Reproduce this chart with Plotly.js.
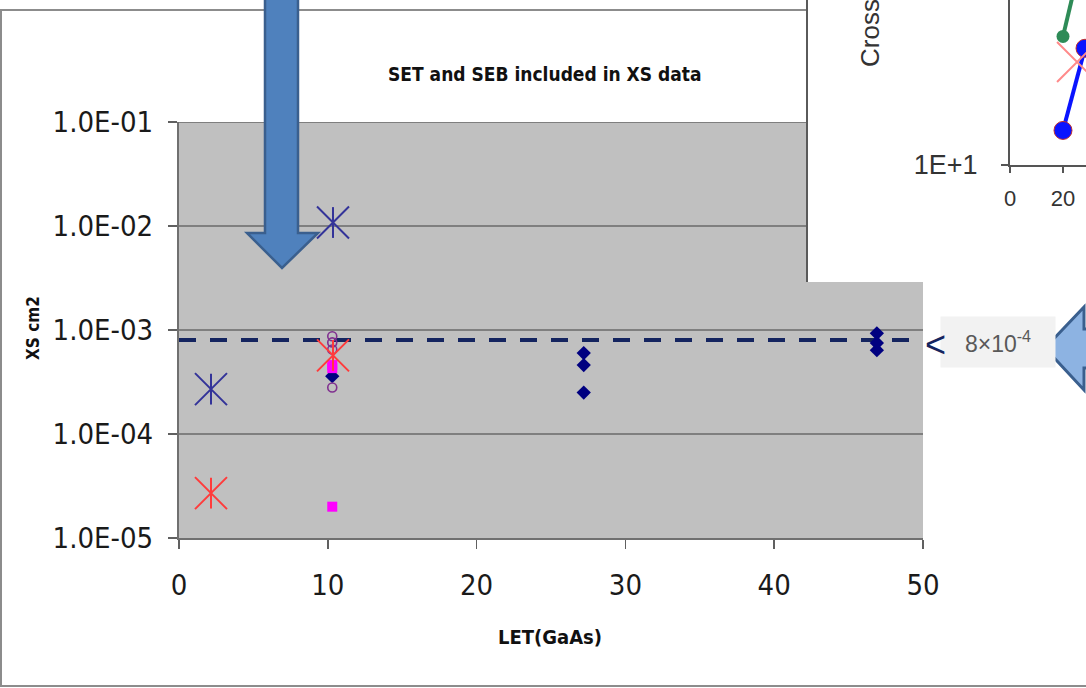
<!DOCTYPE html>
<html><head><meta charset="utf-8">
<script src="https://cdn.plot.ly/plotly-3.0.1.min.js"></script>
<style>html,body{margin:0;padding:0;background:#fff}#chart{width:1086px;height:688px}</style>
</head><body><div id="chart"></div>
<script>
// ---------- main chart data ----------
const diamondLET = [10.3, 27.2, 27.2, 27.2, 46.9, 46.9, 46.9];
const diamondXS  = [3.6e-4, 6.0e-4, 4.6e-4, 2.5e-4, 9.3e-4, 7.5e-4, 6.4e-4];
const squareLET  = [10.3, 10.3, 10.3];
const squareXS   = [2.0e-5, 4.6e-4, 4.3e-4];
const circleLET  = [10.3, 10.3, 10.3, 10.3];
const circleXS   = [8.7e-4, 7.6e-4, 6.5e-4, 2.8e-4];
const blueStarLET = [2.15, 10.35];
const blueStarXS  = [2.7e-4, 1.08e-2];
const redStarLET  = [2.15, 10.35];
const redStarXS   = [2.7e-5, 5.7e-4];
const refLineLET  = [0, 50];
const refLineXS   = [8e-4, 8e-4];
const yTickVals = [1e-5, 1e-4, 1e-3, 1e-2, 1e-1];
const yTickText = ['1.0E-05', '1.0E-04', '1.0E-03', '1.0E-02', '1.0E-01'];
const xTickVals = [0, 10, 20, 30, 40, 50];
const refLabel = '8×10<sup>-4</sup>';
// ---------- inset (cropped second chart) data ----------
const insetGreenX = [20, 25];
const insetGreenY = [72, 170];
const insetBlueX  = [20, 28.3];
const insetBlueY  = [17, 60];
const insetRedX   = [25.3];
const insetRedY   = [48.6];
const insetXTicks = [0, 20];
const insetYTicks = [10];
const insetYText  = ['1E+1'];

const W = 1086, H = 688;
const px = x => x / W;
const py = y => 1 - y / H;
const NARROW = '"DejaVu Sans Condensed", "Liberation Sans Narrow", "Arial Narrow", sans-serif';
const SANS = '"Liberation Sans", Arial, sans-serif';

function pathPx(pts) {
  return 'M' + pts.map(p => px(p[0]).toFixed(5) + ',' + py(p[1]).toFixed(5)).join('L') + 'Z';
}

const starX = (x, y, c) => ({x, y, mode: 'markers', type: 'scatter', hoverinfo: 'skip',
  marker: {symbol: 'x-thin-open', size: 32, color: c, line: {color: c, width: 2}}});
const starV = (x, y, c) => ({x, y, mode: 'markers', type: 'scatter', hoverinfo: 'skip',
  marker: {symbol: 'line-ns-open', size: 22, color: c, line: {color: c, width: 2}}});

const traces = [
  {x: refLineLET, y: refLineXS, mode: 'lines', type: 'scatter',
   line: {color: '#14245f', width: 4, dash: '17px,14px'}},
  {x: diamondLET, y: diamondXS, mode: 'markers', type: 'scatter',
   marker: {symbol: 'diamond', size: 11, color: '#000080'}},
  {x: circleLET, y: circleXS, mode: 'markers', type: 'scatter',
   marker: {symbol: 'circle-open', size: 9, color: '#80308f', line: {color: '#80308f', width: 1.6}}},
  {x: squareLET, y: squareXS, mode: 'markers', type: 'scatter',
   marker: {symbol: 'square', size: 10, color: '#ff00ff'}},
  starX(blueStarLET, blueStarXS, '#333399'),
  starV(blueStarLET, blueStarXS, '#333399'),
  starX(redStarLET, redStarXS, '#ff3b3b'),
  starV(redStarLET, redStarXS, '#ff3b3b'),
  // inset box subplot (empty)
  {x: [], y: [], xaxis: 'x2', yaxis: 'y2', type: 'scatter', mode: 'markers'},
  // inset chart
  {x: insetGreenX, y: insetGreenY, xaxis: 'x3', yaxis: 'y3', type: 'scatter', mode: 'lines+markers',
   line: {color: '#2e8b57', width: 4}, marker: {size: 13, color: '#2e8b57'}},
  {x: insetBlueX, y: insetBlueY, xaxis: 'x3', yaxis: 'y3', type: 'scatter', mode: 'lines+markers',
   line: {color: '#0a14ff', width: 4}, marker: {size: 18, color: '#0a14ff', line: {color: '#c03030', width: 1}}},
  {x: insetRedX, y: insetRedY, xaxis: 'x3', yaxis: 'y3', type: 'scatter', mode: 'markers',
   marker: {symbol: 'x-thin-open', size: 40, color: '#ff8a8a', line: {color: '#ff8a8a', width: 2}}}
];

const layout = {
  width: W, height: H,
  margin: {l: 0, r: 0, t: 0, b: 0},
  paper_bgcolor: '#ffffff', plot_bgcolor: '#ffffff',
  showlegend: false,
  xaxis: {domain: [px(179), px(923)], anchor: 'y', range: [0, 50], tickvals: xTickVals,
    ticks: 'outside', ticklen: 9, tickwidth: 1.5, tickcolor: '#606060',
    showline: true, linecolor: '#707070', linewidth: 2, showgrid: false, zeroline: false,
    tickfont: {family: NARROW, size: 29, color: '#1a1a1a'}, ticklabelstandoff: 11},
  yaxis: {domain: [py(538), py(122)], anchor: 'x', type: 'log', range: [-5, -1],
    tickvals: yTickVals, ticktext: yTickText,
    ticks: 'outside', ticklen: 9, tickwidth: 1.5, tickcolor: '#606060',
    showline: true, linecolor: '#707070', linewidth: 2,
    showgrid: true, gridcolor: '#7f7f7f', gridwidth: 2, zeroline: false,
    tickfont: {family: NARROW, size: 29, color: '#1a1a1a'}, ticklabelstandoff: 9},
  xaxis2: {domain: [px(808), 1], anchor: 'y2', range: [0, 1], showgrid: false, zeroline: false,
    showticklabels: false, ticks: '', showline: false},
  yaxis2: {domain: [py(282), 1], anchor: 'x2', range: [0, 1], showgrid: false, zeroline: false,
    showticklabels: false, ticks: '', showline: true, linecolor: '#5a5a5a', linewidth: 2},
  xaxis3: {domain: [px(1010), 1], anchor: 'y3', range: [0, 76 / 2.65], tickvals: insetXTicks,
    ticks: 'outside', ticklen: 6, tickcolor: '#555', tickwidth: 1.5,
    showline: true, linecolor: '#555', linewidth: 2, showgrid: false, zeroline: false,
    tickfont: {family: SANS, size: 22, color: '#333'}, ticklabelstandoff: 7},
  yaxis3: {domain: [py(165), 1], anchor: 'x3', type: 'log', range: [1, 2.1],
    tickvals: insetYTicks, ticktext: insetYText,
    ticks: 'outside', ticklen: 7, tickcolor: '#555', tickwidth: 1.5,
    showline: true, linecolor: '#555', linewidth: 2, showgrid: false, zeroline: false,
    tickfont: {family: SANS, size: 27, color: '#333'}, ticklabelstandoff: 18},
  shapes: [
    // outer frame of the pasted chart
    {type: 'rect', xref: 'paper', yref: 'paper', x0: px(1), x1: px(1095), y0: py(686), y1: py(10),
     line: {color: '#8c8c8c', width: 2}, fillcolor: 'rgba(0,0,0,0)', layer: 'below'},
    // grey plot area
    {type: 'rect', xref: 'x domain', yref: 'y domain', x0: 0, x1: 1, y0: 0, y1: 1,
     fillcolor: '#c0c0c0', line: {width: 0}, layer: 'below'},
    // top gridline (edge of the plot area)
    {type: 'line', xref: 'x domain', yref: 'y', x0: 0, x1: 1, y0: yTickVals[4], y1: yTickVals[4],
     line: {color: '#7f7f7f', width: 2}, layer: 'below'},
    // big down arrow
    {type: 'path', xref: 'paper', yref: 'paper', layer: 'above',
     path: pathPx([[265, -5], [298, -5], [298, 233], [318, 233], [282, 268], [247, 233], [265, 233]]),
     fillcolor: '#4f81bd', line: {color: '#3a5f8e', width: 2.5}},
    // left-pointing arrow
    {type: 'path', xref: 'paper', yref: 'paper', layer: 'above',
     path: pathPx([[1045, 348], [1084, 307], [1084, 329], [1100, 329], [1100, 368], [1084, 368], [1084, 390]]),
     fillcolor: '#8db3e2', line: {color: '#3a5f8e', width: 3}}
  ],
  annotations: [
    {xref: 'paper', yref: 'paper', x: px(545), y: py(74), xanchor: 'center', yanchor: 'middle',
     text: '<b>SET and SEB included in XS data</b>', showarrow: false,
     font: {family: NARROW, size: 19, color: '#111'}},
    {xref: 'paper', yref: 'paper', x: px(550), y: py(637), xanchor: 'center', yanchor: 'middle',
     text: '<b>LET(GaAs)</b>', showarrow: false, font: {family: NARROW, size: 20, color: '#111'}},
    {xref: 'paper', yref: 'paper', x: px(33), y: py(328), xanchor: 'center', yanchor: 'middle',
     text: '<b>XS cm2</b>', textangle: -90, showarrow: false, font: {family: NARROW, size: 17, color: '#111'}},
    {xref: 'paper', yref: 'paper', x: px(998), y: py(342), xanchor: 'center', yanchor: 'middle',
     text: refLabel, showarrow: false, bgcolor: '#f2f2f2', width: 112, height: 48,
     font: {family: SANS, size: 23, color: '#595959'}},
    {xref: 'paper', yref: 'paper', x: px(935), y: py(344), xanchor: 'center', yanchor: 'middle',
     text: '&lt;', showarrow: false, font: {family: SANS, size: 36, color: '#14245f'}},
    {xref: 'paper', yref: 'paper', x: px(870), y: py(69), xanchor: 'center', yanchor: 'bottom',
     text: 'Cross', textangle: -90, showarrow: false, font: {family: SANS, size: 26, color: '#333'}}
  ]
};

Plotly.newPlot('chart', traces, layout, {staticPlot: true, displayModeBar: false});
</script>
</body></html>
